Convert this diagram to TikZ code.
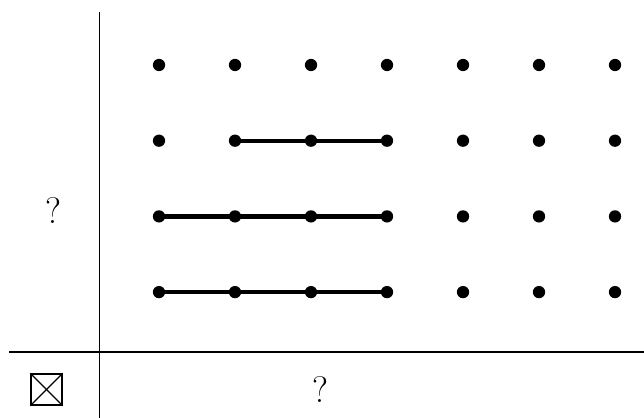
\documentclass[tikz,border=0pt]{standalone}
\usepackage{tikz}
\usetikzlibrary{positioning, backgrounds}

\tikzset{
	dot/.style={circle, fill=black, inner sep=0pt, minimum size=7pt},
	bar/.style={line width=2.5pt},
	rule/.style={line width=0.75pt},
	qmark/.style={font=\fontsize{21}{24}\selectfont}
}

\begin{document}
\begin{tikzpicture}[x=0.02cm, y=-0.02cm]
	\useasboundingbox (0,0) rectangle (644,418);
	% table rules
	\coordinate (hl) at (9,352);
	\coordinate (hr) at (644,352);
	\coordinate (vt) at (99.5,12);
	\coordinate (vb) at (99.5,418);
	\draw[rule] (hl) -- (hr);
	\draw[rule] (vt) -- (vb);
	% grid of points
	\foreach \i in {1,...,7}
	\foreach \j in {1,...,4}
	\node[dot] (d-\i-\j) at ({159+76*(\i-1)}, {65+75.7*(\j-1)}) {};
	% segments
	\draw[bar] (d-2-2.center) -- (d-3-2.center) -- (d-4-2.center);
	\draw[bar] (d-1-3.center) -- (d-2-3.center) -- (d-3-3.center) -- (d-4-3.center);
	\draw[bar] (d-1-4.center) -- (d-2-4.center) -- (d-3-4.center) -- (d-4-4.center);
	% labels
	\node[qmark] (rowq) at (53,211) {?};
	\node[qmark] (colq) at (320,390) {?};
	\node[draw, rule, minimum size=0.62cm, inner sep=0pt] (corner) at (46.5,389.5) {};
	\draw[rule] (corner.north west) -- (corner.south east);
	\draw[rule] (corner.south west) -- (corner.north east);
\end{tikzpicture}
\end{document}
